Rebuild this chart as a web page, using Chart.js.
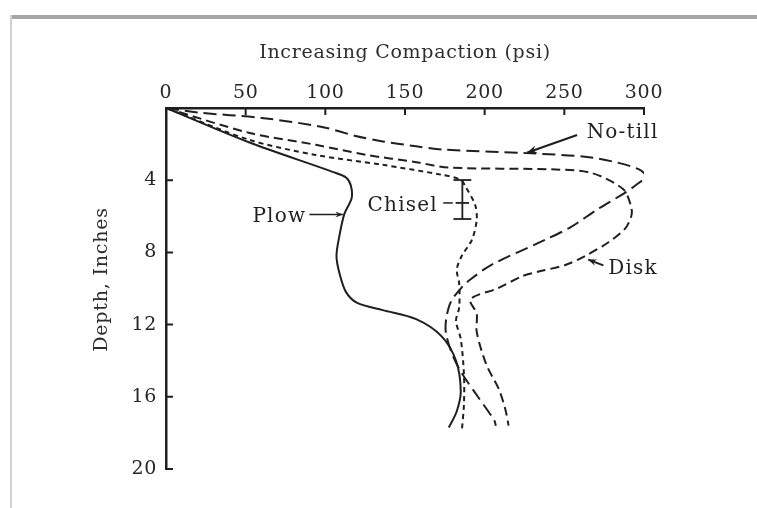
<!DOCTYPE html>
<html>
<head>
<meta charset="utf-8">
<script src="https://cdn.jsdelivr.net/npm/chart.js@4.4.1/dist/chart.umd.min.js"></script>
<style>
  html, body { margin: 0; padding: 0; background: #ffffff; }
  canvas { display: block; }
</style>
</head>
<body>
<canvas id="chart" width="757" height="508"></canvas>
<script>
// Soil compaction (psi) versus depth (inches) under four tillage systems
const psiTicks = [0, 50, 100, 150, 200, 250, 300];
const depthTicks = [4, 8, 12, 16, 20];

const plowPsi   = [0, 52, 105, 113, 116, 116.5, 112, 109, 107, 109, 113, 120, 136, 157, 173, 182, 185, 182.5, 177.5];
const plowDepth = [0, 1.9, 3.55, 3.85, 4.3, 5.0, 5.85, 7.0, 8.2, 9.2, 10.2, 10.8, 11.2, 11.7, 12.65, 14.0, 15.7, 16.8, 17.7];

const chiselPsi   = [0, 52.5, 94, 136, 173, 185, 188, 194, 195, 192, 185.6, 182.5, 184, 184, 182, 185, 187, 187, 185.6];
const chiselDepth = [0, 1.77, 2.6, 3.15, 3.7, 3.98, 4.36, 5.36, 6.2, 7.3, 8.2, 8.95, 9.7, 11.05, 11.8, 12.8, 14.75, 16.4, 17.95];

const noTillPsi   = [0, 20, 60, 98, 119, 136, 157, 173, 226, 263, 284, 298, 301, 296, 288, 271, 254, 238, 204, 191, 186, 179, 176, 175.6, 179, 185, 195, 206, 207];
const noTillDepth = [0, 0.25, 0.55, 1.05, 1.55, 1.85, 2.12, 2.3, 2.5, 2.7, 3.04, 3.45, 3.8, 4.2, 4.7, 5.6, 6.6, 7.3, 8.7, 9.5, 9.9, 10.7, 11.6, 12.4, 13.5, 14.6, 15.9, 17.3, 17.6];

const diskPsi   = [0, 52.5, 94, 126, 157, 177.5, 242, 267, 287, 292, 292, 288, 277.5, 263, 250.6, 234, 224, 208, 191, 195, 195, 201, 209, 213, 215];
const diskDepth = [0, 1.38, 2.04, 2.6, 3.0, 3.3, 3.4, 3.6, 4.5, 5.5, 6.0, 6.7, 7.45, 8.2, 8.7, 9.06, 9.3, 10.0, 10.6, 11.4, 12.4, 14.2, 15.6, 16.7, 17.6];

// Chisel range bar: centre psi, depths of the top, middle and bottom caps, cap half-width (psi)
const chiselBarPsi = 186;
const chiselBarDepths = [3.99, 5.26, 6.15];
const chiselBarCapHalf = [5.6, 4.2, 5.6];

const INK = '#1f1f1f';
const SERIF = '"DejaVu Serif", "Liberation Serif", serif';

const toPoints = (xs, ys) => xs.map((v, i) => ({ x: v, y: ys[i] }));

function curve(label, xs, ys, dash) {
  return {
    label,
    data: toPoints(xs, ys),
    showLine: true,
    borderColor: INK,
    borderWidth: 2,
    borderDash: dash,
    pointRadius: 0,
    tension: 0.3,
    fill: false
  };
}

function segment(points) {
  return {
    label: 'bar',
    data: points,
    showLine: true,
    borderColor: INK,
    borderWidth: 1.8,
    pointRadius: 0,
    tension: 0
  };
}

const barSets = [
  segment([{ x: chiselBarPsi, y: chiselBarDepths[0] }, { x: chiselBarPsi, y: chiselBarDepths[2] }])
].concat(chiselBarDepths.map((d, i) => segment([
  { x: chiselBarPsi - chiselBarCapHalf[i], y: d },
  { x: chiselBarPsi + chiselBarCapHalf[i], y: d }
])));

// Page frame: grey rule along the top and a faint rule on the left
const frameDeco = {
  id: 'frameDeco',
  beforeDraw(chart) {
    const ctx = chart.ctx;
    ctx.save();
    ctx.fillStyle = '#ffffff';
    ctx.fillRect(0, 0, chart.width, chart.height);
    ctx.fillStyle = '#a6a6a6';
    ctx.fillRect(10, 15, chart.width - 10, 4);
    ctx.fillStyle = '#d2d2d2';
    ctx.fillRect(10, 15, 2, chart.height - 15);
    ctx.restore();
    // the serif face is set a little loose, like the printed lettering
    ctx.letterSpacing = '0.7px';
  }
};

function arrow(ctx, x1, y1, x2, y2, head, width) {
  ctx.lineWidth = width;
  ctx.beginPath();
  ctx.moveTo(x1, y1);
  ctx.lineTo(x2, y2);
  ctx.stroke();
  const a = Math.atan2(y2 - y1, x2 - x1);
  ctx.beginPath();
  ctx.moveTo(x2, y2);
  ctx.lineTo(x2 - head * Math.cos(a - 0.38), y2 - head * Math.sin(a - 0.38));
  ctx.lineTo(x2 - head * 0.6 * Math.cos(a), y2 - head * 0.6 * Math.sin(a));
  ctx.lineTo(x2 - head * Math.cos(a + 0.38), y2 - head * Math.sin(a + 0.38));
  ctx.closePath();
  ctx.fill();
}

// Inward tick marks, the depth title and the series call-outs
const callouts = {
  id: 'callouts',
  afterDraw(chart) {
    const { ctx, scales: { x, y } } = chart;
    const px = v => x.getPixelForValue(v);
    const py = d => y.getPixelForValue(d);
    ctx.save();
    ctx.strokeStyle = INK;
    ctx.fillStyle = INK;
    ctx.lineWidth = 2;
    ctx.beginPath();
    psiTicks.forEach(v => {
      if (v === 0) return;
      ctx.moveTo(px(v), py(0));
      ctx.lineTo(px(v), py(0) + 7);
    });
    depthTicks.forEach(d => {
      ctx.moveTo(px(0), py(d));
      ctx.lineTo(px(0) + 7, py(d));
    });
    ctx.stroke();

    // depth axis title
    ctx.save();
    ctx.fillStyle = '#2e2e2e';
    ctx.font = '19px ' + SERIF;
    ctx.letterSpacing = '0.8px';
    ctx.textAlign = 'center';
    ctx.textBaseline = 'middle';
    ctx.translate(102, py(9.5));
    ctx.rotate(-Math.PI / 2);
    ctx.fillText('Depth, Inches', 0, 0);
    ctx.restore();

    ctx.font = '20px ' + SERIF;
    ctx.letterSpacing = '1.2px';
    ctx.textBaseline = 'middle';

    // Plow
    ctx.textAlign = 'right';
    ctx.fillText('Plow', px(88), py(6.0));
    arrow(ctx, px(90), py(5.9), px(111), py(5.9), 8, 1.5);

    // Chisel
    ctx.textAlign = 'left';
    ctx.fillText('Chisel', px(126.5), py(5.4));
    ctx.lineWidth = 1.5;
    ctx.beginPath();
    ctx.moveTo(px(174), py(5.26));
    ctx.lineTo(px(180), py(5.26));
    ctx.stroke();

    // No-till
    ctx.fillText('No-till', px(264), py(1.4));
    arrow(ctx, px(258), py(1.5), px(226.5), py(2.48), 11, 2.2);

    // Disk
    ctx.fillText('Disk', px(277.5), py(8.9));
    arrow(ctx, px(274.5), py(8.72), px(265), py(8.4), 9, 2);

    ctx.restore();
  }
};

new Chart(document.getElementById('chart'), {
  type: 'scatter',
  data: {
    datasets: [
      curve('Plow', plowPsi, plowDepth, []),
      curve('Chisel', chiselPsi, chiselDepth, [5, 4]),
      curve('Disk', diskPsi, diskDepth, [9, 5]),
      curve('No-till', noTillPsi, noTillDepth, [13, 6])
    ].concat(barSets)
  },
  options: {
    responsive: false,
    devicePixelRatio: 1,
    animation: false,
    events: [],
    layout: { padding: { left: 92, top: 42, right: 113, bottom: 39 } },
    plugins: {
      legend: { display: false },
      tooltip: { enabled: false }
    },
    scales: {
      x: {
        type: 'linear',
        position: 'top',
        min: 0,
        max: 300,
        afterFit: s => { s.height = 66; },
        afterBuildTicks: s => { s.ticks = psiTicks.map(v => ({ value: v })); },
        grid: { display: false, drawTicks: false },
        border: { display: true, color: INK, width: 2.5 },
        ticks: {
          color: '#262626',
          padding: 4,
          maxRotation: 0,
          font: { family: SERIF, size: 19 }
        },
        title: {
          display: true,
          text: 'Increasing Compaction (psi)',
          color: '#2e2e2e',
          padding: 0,
          font: { family: SERIF, size: 19 }
        }
      },
      y: {
        type: 'linear',
        position: 'left',
        reverse: true,
        min: 0,
        max: 20,
        afterFit: s => { s.width = 74; },
        afterBuildTicks: s => { s.ticks = depthTicks.map(v => ({ value: v })); },
        grid: { display: false, drawTicks: false },
        border: { display: true, color: INK, width: 2.5 },
        ticks: {
          color: '#262626',
          padding: 9,
          font: { family: SERIF, size: 19 }
        },
        title: { display: false }
      }
    }
  },
  plugins: [frameDeco, callouts]
});
</script>
</body>
</html>
